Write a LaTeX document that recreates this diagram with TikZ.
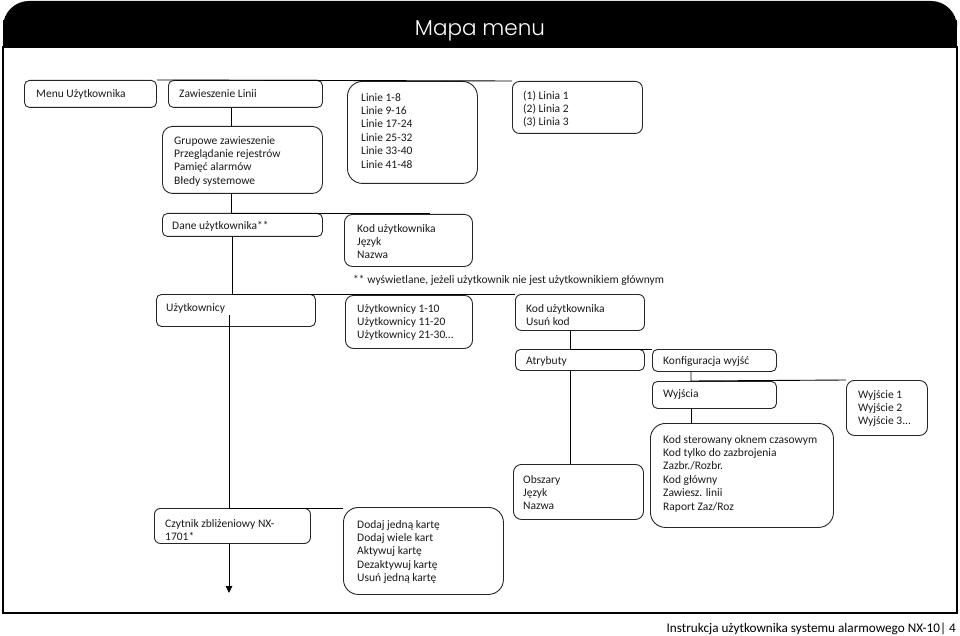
\documentclass[tikz,border=0pt]{standalone}
\usepackage{fontspec}
\setmainfont{Carlito}
\newfontfamily\titlefont{Poppins Light}
\usetikzlibrary{arrows.meta}
\begin{document}
\begin{tikzpicture}[x=1pt,y=-1pt,
  box/.style={draw=black!85, line width=0.9pt, inner sep=0pt, anchor=north west},
  txt/.style={anchor=north west, inner sep=0pt, align=left, text=black!90,
              font=\fontsize{11.5}{13.4}\selectfont},
  conn/.style={draw=black, line width=0.9pt}]
\useasboundingbox (0,0) rectangle (960,636);
% header
\fill[black, rounded corners=26pt] (3,47) -- (3,1) -- (957,1) -- (957,47) -- cycle;
\fill[black] (3,20) rectangle (957,47);
\node[anchor=base, inner sep=0pt, text=white, font=\titlefont\fontsize{21.5}{24}\selectfont] (title) at (480,36) {Mapa menu};
% frame
\draw[line width=1.6pt] (3,47) rectangle (957,613);
% footer
\node[anchor=base east, inner sep=0pt, font=\fontsize{13.2}{15}\selectfont] (footer) at (956,632) {Instrukcja użytkownika systemu alarmowego NX-10| 4};

% boxes
\node[box, minimum width=132pt, minimum height=27pt, rounded corners=5pt] (menu) at (24,80) {};
\node[box, minimum width=154pt, minimum height=27pt, rounded corners=5pt] (zaw) at (168,80) {};
\node[box, minimum width=160pt, minimum height=67pt, rounded corners=10pt] (grp) at (162,126) {};
\node[box, minimum width=130pt, minimum height=102pt, rounded corners=15pt] (linie) at (347,81) {};
\node[box, minimum width=130pt, minimum height=52pt, rounded corners=7pt] (linia) at (512,81) {};
\node[box, minimum width=160pt, minimum height=23pt, rounded corners=5pt] (dane) at (162,213) {};
\node[box, minimum width=128pt, minimum height=52pt, rounded corners=8pt] (kodA) at (344,214) {};
\node[box, minimum width=159pt, minimum height=32pt, rounded corners=5pt] (uzyt) at (156,294) {};
\node[box, minimum width=127pt, minimum height=53pt, rounded corners=8pt] (uzlist) at (345,295) {};
\node[box, minimum width=129pt, minimum height=36pt, rounded corners=6pt] (kodB) at (515,294) {};
\node[box, minimum width=129pt, minimum height=21pt, rounded corners=5pt] (atr) at (515,349) {};
\node[box, minimum width=124pt, minimum height=22pt, rounded corners=5pt] (konf) at (652,349) {};
\node[box, minimum width=124pt, minimum height=27pt, rounded corners=5pt] (wyj) at (652,381) {};
\node[box, minimum width=81pt, minimum height=55pt, rounded corners=8pt] (wyjN) at (846,380) {};
\node[box, minimum width=183pt, minimum height=104pt, rounded corners=15pt] (ster) at (650,423) {};
\node[box, minimum width=130pt, minimum height=55pt, rounded corners=8pt] (obsz) at (513,464) {};
\node[box, minimum width=156pt, minimum height=35pt, rounded corners=6pt] (czyt) at (154,508) {};
\node[box, minimum width=160pt, minimum height=87pt, rounded corners=15pt] (dodaj) at (343,507) {};

% texts (first baseline - 9.38)
\node[txt] (menuT) at (36,88.1) {\strut Menu Użytkownika};
\node[txt] (zawT) at (179,87.6) {\strut Zawieszenie Linii};
\node[txt] (grpT) at (174,134.6) {\strut Grupowe zawieszenie\\Przeglądanie rejestrów\\Pamięć alarmów\\Błedy systemowe};
\node[txt] (linieT) at (361,91.6) {\strut Linie 1-8\\Linie 9-16\\Linie 17-24\\Linie 25-32\\Linie 33-40\\Linie 41-48};
\node[txt] (liniaT) at (523,89.6) {\strut (1) Linia 1\\(2) Linia 2\\(3) Linia 3};
\node[txt] (daneT) at (172,219.6) {\strut Dane użytkownika**};
\node[txt] (kodAT) at (357,222.6) {\strut Kod użytkownika\\Język\\Nazwa};
\node[txt] (note) at (353,273.6) {\strut ** wyświetlane, jeżeli użytkownik nie jest użytkownikiem głównym};
\node[txt] (uzytT) at (166,301.6) {\strut Użytkownicy};
\node[txt] (uzlistT) at (357,302.6) {\strut Użytkownicy 1-10\\Użytkownicy 11-20\\Użytkownicy 21-30…};
\node[txt] (kodBT) at (526,302.6) {\strut Kod użytkownika\\Usuń kod};
\node[txt] (atrT) at (526,355.1) {\strut Atrybuty};
\node[txt] (konfT) at (663,355.1) {\strut Konfiguracja wyjść};
\node[txt] (wyjT) at (663,387.6) {\strut Wyjścia};
\node[txt] (wyjNT) at (858,388.6) {\strut Wyjście 1\\Wyjście 2\\Wyjście 3...};
\node[txt] (sterT) at (663,433.6) {\strut Kod sterowany oknem czasowym\\Kod tylko do zazbrojenia\\Zazbr./Rozbr.\\Kod główny\\Zawiesz. linii\\Raport Zaz/Roz};
\node[txt] (obszT) at (523,473.6) {\strut Obszary\\Język\\Nazwa};
\node[txt] (czytT) at (165,517.6) {\strut Czytnik zbliżeniowy NX-\\1701*};
\node[txt] (dodajT) at (357,518.6) {\strut Dodaj jedną kartę\\Dodaj wiele kart\\Aktywuj kartę\\Dezaktywuj kartę\\Usuń jedną kartę};

% trunk coordinates
\coordinate (t1) at (231,0);
\coordinate (t2) at (232,0);
\coordinate (t3) at (229,0);
\coordinate (t4) at (570,0);
\coordinate (t5) at (691,0);
\coordinate (e1) at (430,213);
\coordinate (s3) at (229,315);
\coordinate (tip) at (229,593);

% connectors
\draw[conn] (menu.north east) -- (linia.north west);
\draw[conn] (t1 |- zaw.south) -- (t1 |- grp.north);
\draw[conn] (t1 |- grp.south) -- (t1 |- dane.north) -- (e1);
\draw[conn] (t2 |- dane.south) -- (t2 |- uzyt.north) -- (kodB.north west);
\draw[conn] (s3) -- (t3 |- czyt.north) -- (dodaj.west |- czyt.north);
\draw[conn, -{Triangle[width=6.5pt,length=7pt]}] (t3 |- czyt.south) -- (tip);
\draw[conn] (t4 |- kodB.south) -- (t4 |- atr.north) -- (konf.north west);
\draw[conn] (t4 |- atr.south) -- (t4 |- obsz.north);
\draw[conn] (t5 |- konf.south) -- (t5 |- wyj.north) -- (wyjN.north west);
\draw[conn] (t5 |- wyj.south) -- (t5 |- ster.north);
\end{tikzpicture}
\end{document}
